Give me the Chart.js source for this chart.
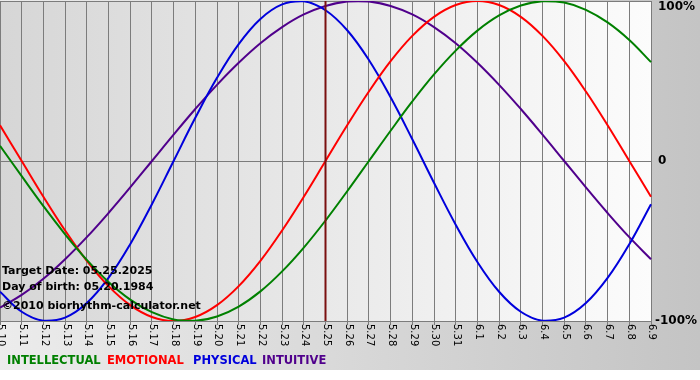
<!DOCTYPE html>
<html>
<head>
<meta charset="utf-8">
<script src="https://cdn.jsdelivr.net/npm/chart.js@4/dist/chart.umd.min.js"></script>
<style>
  body { margin: 0; background: #fff; }
  canvas { display: block; }
</style>
</head>
<body>
<canvas id="bio" width="700" height="380"></canvas>
<script>
const days = ["5.10", "5.11", "5.12", "5.13", "5.14", "5.15", "5.16", "5.17", "5.18", "5.19", "5.20",
  "5.21", "5.22", "5.23", "5.24", "5.25", "5.26", "5.27", "5.28", "5.29", "5.30", "5.31",
  "6.1", "6.2", "6.3", "6.4", "6.5", "6.6", "6.7", "6.8", "6.9"];

const intellectual = [0.095, -0.095, -0.282, -0.458, -0.618, -0.756, -0.866, -0.945, -0.99, -0.999, -0.972,
  -0.91, -0.815, -0.69, -0.541, -0.372, -0.189, 0, 0.189, 0.372, 0.541,
  0.69, 0.815, 0.91, 0.972, 0.999, 0.99, 0.945, 0.866, 0.756, 0.618];
const emotional = [0.223, 0, -0.223, -0.434, -0.624, -0.782, -0.901, -0.975, -1, -0.975, -0.901,
  -0.782, -0.624, -0.434, -0.223, 0, 0.223, 0.434, 0.624, 0.782, 0.901,
  0.975, 1, 0.975, 0.901, 0.782, 0.624, 0.434, 0.223, 0, -0.223];
const physical = [-0.817, -0.942, -0.998, -0.979, -0.888, -0.731, -0.52, -0.27, 0, 0.27, 0.52,
  0.731, 0.888, 0.979, 0.998, 0.942, 0.817, 0.631, 0.398, 0.136, -0.136,
  -0.398, -0.631, -0.817, -0.942, -0.998, -0.979, -0.888, -0.731, -0.52, -0.27];
const intuitive = [-0.916, -0.837, -0.736, -0.614, -0.476, -0.325, -0.165, 0, 0.165, 0.325, 0.476,
  0.614, 0.736, 0.837, 0.916, 0.969, 0.997, 0.997, 0.969, 0.916, 0.837,
  0.736, 0.614, 0.476, 0.325, 0.165, 0, -0.165, -0.325, -0.476, -0.614];

const yTicks = [1, 0, -1];
const yTickLabels = ["100%", "0", "-100%"];
const targetIndex = 15;
const infoLines = ["Target Date: 05.25.2025", "Day of birth: 05.20.1984", "\u00a92010 biorhythm-calculator.net"];
const legendNames = ["INTELLECTUAL", "EMOTIONAL", "PHYSICAL", "INTUITIVE"];
const colors = ["rgb(0,128,0)", "rgb(255,0,0)", "rgb(0,0,220)", "rgb(80,0,140)"];

const backdrop = {
  id: "backdrop",
  beforeDraw(chart) {
    const { ctx, chartArea: a } = chart;
    ctx.save();
    let g = ctx.createLinearGradient(0, 0, 700, 0);
    g.addColorStop(0, "#ececec");
    g.addColorStop(1, "#c4c4c4");
    ctx.fillStyle = g;
    ctx.fillRect(0, 0, 700, 370);
    g = ctx.createLinearGradient(a.left, 0, a.right, 0);
    g.addColorStop(0, "#d6d6d6");
    g.addColorStop(1, "#fcfcfc");
    ctx.fillStyle = g;
    ctx.fillRect(a.left, a.top, a.right - a.left, a.bottom - a.top);
    ctx.restore();
  }
};

const overlay = {
  id: "overlay",
  afterDatasetsDraw(chart) {
    const { ctx, chartArea: a, scales } = chart;
    const x = scales.x, y = scales.y;
    ctx.save();

    // target day
    const tx = x.getPixelForValue(targetIndex);
    ctx.strokeStyle = "#7a1010";
    ctx.lineWidth = 2;
    ctx.beginPath();
    ctx.moveTo(tx, a.top);
    ctx.lineTo(tx, a.bottom);
    ctx.stroke();

    // day labels, reading downwards
    ctx.fillStyle = "#000";
    ctx.font = "10px 'DejaVu Sans'";
    ctx.textAlign = "left";
    ctx.textBaseline = "middle";
    days.forEach((d, i) => {
      ctx.save();
      ctx.translate(x.getPixelForValue(i) + 1, a.bottom + 3);
      ctx.rotate(Math.PI / 2);
      ctx.fillText(d, 0, 0);
      ctx.restore();
    });

    // percent labels
    ctx.font = "bold 12px 'DejaVu Sans'";
    ctx.textAlign = "left";
    yTicks.forEach((v, i) => {
      let py = y.getPixelForValue(v);
      if (v === 1) py += 6;
      const px = v === -1 ? 655 : 658;
      ctx.fillText(yTickLabels[i], px, py);
    });

    // info text
    ctx.font = "bold 11px 'DejaVu Sans'";
    ctx.textBaseline = "middle";
    ctx.fillText(infoLines[0], 2, 271);
    ctx.fillText(infoLines[1], 2, 287);
    ctx.fillText(infoLines[2], 2, 306);

    // legend
    const legendX = [7, 107, 193, 262];
    ctx.font = "bold 11.5px 'DejaVu Sans'";
    legendNames.forEach((n, i) => {
      ctx.fillStyle = colors[i];
      ctx.fillText(n, legendX[i], 361);
    });
    ctx.restore();
  }
};

new Chart(document.getElementById("bio"), {
  type: "line",
  data: {
    labels: days,
    datasets: [
      { label: legendNames[0], data: intellectual, borderColor: colors[0] },
      { label: legendNames[1], data: emotional, borderColor: colors[1] },
      { label: legendNames[2], data: physical, borderColor: colors[2] },
      { label: legendNames[3], data: intuitive, borderColor: colors[3] }
    ]
  },
  options: {
    responsive: false,
    animation: false,
    layout: { padding: { left: 0, top: 1, right: 0, bottom: 0 } },
    elements: {
      line: { borderWidth: 2, tension: 0.4 },
      point: { radius: 0 }
    },
    plugins: { legend: { display: false }, tooltip: { enabled: false } },
    scales: {
      x: {
        offset: false,
        grid: { color: "#7c7c7c", lineWidth: 1, drawTicks: true, tickLength: 4, offset: false },
        border: { display: false },
        ticks: { display: false },
        afterFit(s) { s.height = 59; }
      },
      y: {
        position: "right",
        min: -1,
        max: 1,
        afterBuildTicks(s) { s.ticks = yTicks.map(v => ({ value: v })); },
        grid: { color: "#7c7c7c", lineWidth: 1, drawTicks: false },
        border: { display: false },
        ticks: { display: false },
        afterFit(s) { s.width = 49; }
      }
    }
  },
  plugins: [backdrop, overlay]
});
</script>
</body>
</html>
